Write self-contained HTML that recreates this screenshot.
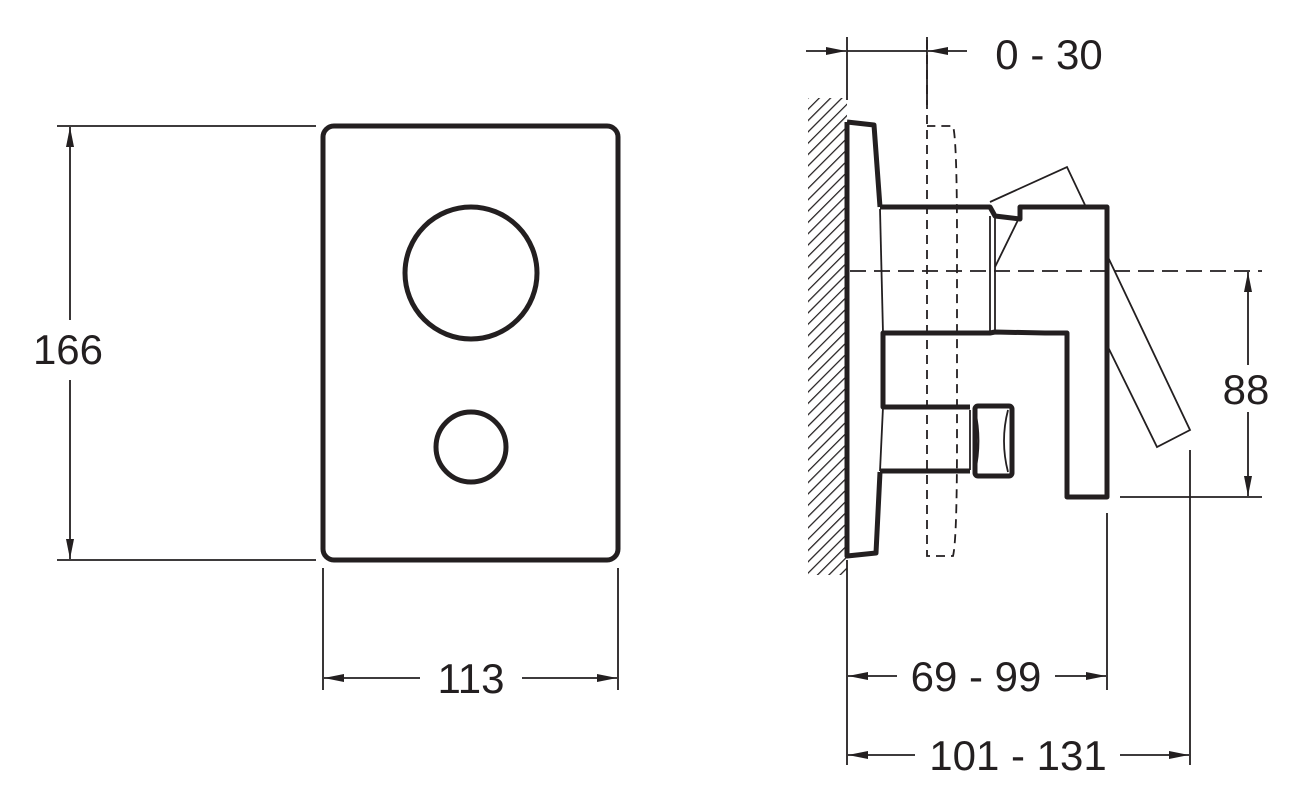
<!DOCTYPE html>
<html><head><style>body{margin:0;background:#fff}svg{display:block}text{font-family:"Liberation Sans",sans-serif;font-size:42px;fill:#231f20}</style></head><body>
<svg width="1306" height="807" viewBox="0 0 1306 807" xmlns="http://www.w3.org/2000/svg">
<defs>
<marker id="a" viewBox="0 0 20 8" refX="20" refY="4" markerWidth="20" markerHeight="8" markerUnits="userSpaceOnUse" orient="auto"><path d="M0,0L20,4L0,8z" fill="#231f20"/></marker>
<pattern id="h" width="8" height="8" patternUnits="userSpaceOnUse" patternTransform="rotate(45)"><line x1="0" y1="0" x2="0" y2="8" stroke="#231f20" stroke-width="2.5"/></pattern>
</defs>
<g stroke="#231f20" fill="none">
<rect x="323" y="126" width="295" height="434" rx="11" stroke-width="5"/>
<circle cx="471" cy="273" r="66" stroke-width="5"/>
<circle cx="471" cy="447" r="35" stroke-width="5"/>
<g stroke-width="1.8">
<line x1="57" y1="126" x2="316" y2="126"/><line x1="57" y1="560" x2="316" y2="560"/>
<line x1="70" y1="320" x2="70" y2="127" marker-end="url(#a)"/><line x1="70" y1="380" x2="70" y2="559" marker-end="url(#a)"/>
<line x1="323" y1="568" x2="323" y2="690"/><line x1="618" y1="568" x2="618" y2="690"/>
<line x1="420" y1="678" x2="324" y2="678" marker-end="url(#a)"/><line x1="522" y1="678" x2="617" y2="678" marker-end="url(#a)"/>
</g>
<rect x="808" y="98" width="39" height="477" fill="url(#h)" stroke="none"/>
<g stroke-width="1.8">
<line x1="847" y1="37" x2="847" y2="100"/><line x1="927" y1="37" x2="927" y2="105"/>
<line x1="847" y1="51" x2="927" y2="51"/>
<line x1="806" y1="51" x2="846" y2="51" marker-end="url(#a)"/><line x1="967" y1="51" x2="928" y2="51" marker-end="url(#a)"/>
<line x1="847" y1="560" x2="847" y2="765"/>
<line x1="1107" y1="513" x2="1107" y2="690"/>
<line x1="1190" y1="450" x2="1190" y2="765"/>
<line x1="1120" y1="497" x2="1262" y2="497"/>
<line x1="1248" y1="365" x2="1248" y2="272" marker-end="url(#a)"/><line x1="1248" y1="412" x2="1248" y2="496" marker-end="url(#a)"/>
<line x1="897" y1="676" x2="848" y2="676" marker-end="url(#a)"/><line x1="1055" y1="676" x2="1106" y2="676" marker-end="url(#a)"/>
<line x1="915" y1="755" x2="848" y2="755" marker-end="url(#a)"/><line x1="1120" y1="755" x2="1189" y2="755" marker-end="url(#a)"/>
<line x1="850" y1="271" x2="1262" y2="271" stroke-dasharray="16,8"/>
<path d="M927,40V556H953Q957,540 957,440V240Q957,140 953,126H927" stroke-dasharray="9,6"/>
<line x1="880" y1="209" x2="883" y2="333"/><line x1="883" y1="407" x2="880" y2="471"/>
<line x1="995" y1="216" x2="995" y2="333"/><line x1="990" y1="216" x2="990" y2="333"/>
<line x1="1018" y1="220" x2="995" y2="267"/>
<path d="M990,202L1067,167L1085,205"/>
<path d="M1107,255L1190,430L1157,447L1107,345"/>
<path d="M970,410V470M975,410Q982,441 975,472M1008,410Q1000,441 1008,472"/>
</g>
<g stroke-width="5" stroke-linejoin="round">
<path d="M847,122V556L876,553L880,472M880,207L874,125L847,122"/>
<path d="M880,207H990L995,216L1020,219V207H1107V497H1067V333H1045L995,332L990,333H883V407H970M880,471H970"/>
<rect x="975" y="406" width="37" height="70" rx="3"/>
</g>
</g>
<rect x="36" y="322" width="68" height="52" fill="#fff"/>
<text x="68" y="364" text-anchor="middle">166</text>
<text x="471" y="693" text-anchor="middle">113</text>
<text x="1049" y="69" text-anchor="middle">0 - 30</text>
<text x="1246" y="404" text-anchor="middle">88</text>
<text x="976" y="691" text-anchor="middle">69 - 99</text>
<text x="1018" y="770" text-anchor="middle">101 - 131</text>
</svg>
</body></html>
